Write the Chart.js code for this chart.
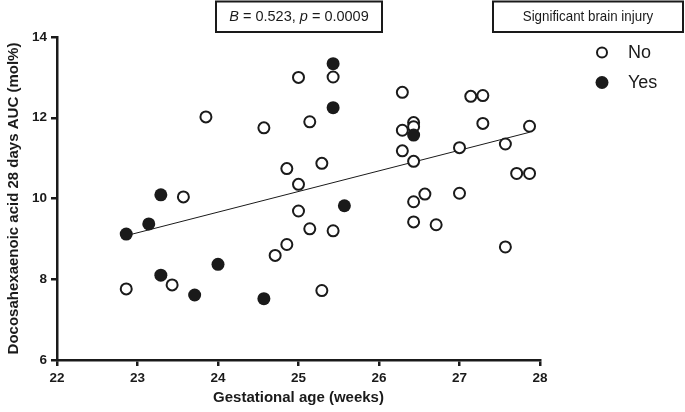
<!DOCTYPE html>
<html>
<head>
<meta charset="utf-8">
<script src="https://cdn.jsdelivr.net/npm/chart.js@4.4.1/dist/chart.umd.min.js"></script>
<style>
  html, body { margin: 0; padding: 0; background: #fff; }
  #wrap { width: 685px; height: 412px; }
</style>
</head>
<body>
<div id="wrap"><canvas id="dhaChart" width="685" height="412"></canvas></div>
<script>
// data
const noAge = [23.85, 24.57, 24.855, 23.57, 23.43, 22.86, 24.71, 24.855, 25.0, 25.43,
    26.29, 27.14, 27.29, 25.14, 26.29, 26.43, 26.43, 27.29, 27.87, 27.0,
    27.57, 26.29, 26.43, 27.71, 27.87, 25.29, 25.0, 25.0, 25.14, 25.43,
    25.29, 26.43, 26.57, 27.0, 26.43, 26.71, 27.57];
const noDha = [12.02, 11.75, 10.74, 10.04, 7.86, 7.76, 8.59, 8.86, 13.0, 13.01,
    12.63, 12.53, 12.55, 11.9, 11.69, 11.88, 11.78, 11.86, 11.79, 11.26,
    11.35, 11.18, 10.92, 10.62, 10.62, 10.87, 10.35, 9.69, 9.25, 9.2,
    7.72, 9.92, 10.11, 10.13, 9.42, 9.35, 8.8];
const yesAge = [25.43, 25.43, 26.43, 23.29, 23.14, 22.86, 24.0, 23.29, 23.71, 24.57, 25.57];
const yesDha = [13.34, 12.25, 11.57, 10.09, 9.37, 9.12, 8.37, 8.1, 7.61, 7.52, 9.82];
// regression line end points
const fitAge = [22.86, 27.87];
const fitDha = [9.08, 11.64];
const xTicks = [22, 23, 24, 25, 26, 27, 28];
const yTicks = [6, 8, 10, 12, 14];

const ink = "#1a1a1a";
const font = "'Liberation Sans', Arial, Helvetica, sans-serif";

function toPoints(xs, ys) {
    return xs.map((x, i) => ({ x: x, y: ys[i] }));
}

// boxes + legend drawn on top
const extras = {
    id: "extras",
    afterDraw(chart) {
        const c = chart.ctx;
        c.save();
        c.strokeStyle = ink;
        c.lineWidth = 2;
        c.strokeRect(216, 1.5, 166, 30.5);
        c.strokeRect(493, 1.5, 190, 30.5);

        c.fillStyle = ink;
        c.textBaseline = "middle";
        // "B = 0.523, p = 0.0009" with italic B and p
        const parts = [["B", true], [" = 0.523, ", false], ["p", true], [" = 0.0009", false]];
        let w = 0;
        parts.forEach((p) => {
            c.font = (p[1] ? "italic " : "") + "14.5px " + font;
            w += c.measureText(p[0]).width;
        });
        let x = 299 - w / 2;
        c.textAlign = "left";
        parts.forEach((p) => {
            c.font = (p[1] ? "italic " : "") + "14.5px " + font;
            c.fillText(p[0], x, 17);
            x += c.measureText(p[0]).width;
        });

        // narrower look, like the original
        c.save();
        c.translate(588, 17);
        c.scale(0.92, 1);
        c.font = "14.5px " + font;
        c.textAlign = "center";
        c.fillText("Significant brain injury", 0, 0);
        c.restore();

        // legend
        c.textAlign = "left";
        c.font = "18px " + font;
        c.beginPath();
        c.arc(602, 52.5, 5, 0, Math.PI * 2);
        c.fillStyle = "#fff";
        c.fill();
        c.lineWidth = 2;
        c.stroke();
        c.fillStyle = ink;
        c.fillText("No", 628, 53);

        c.beginPath();
        c.arc(602, 82.5, 6.5, 0, Math.PI * 2);
        c.fill();
        c.fillText("Yes", 628, 83);
        c.restore();
    },
};

const ctx = document.getElementById("dhaChart");

new Chart(ctx, {
    type: "scatter",
    data: {
        datasets: [
            {
                label: "fit",
                data: toPoints(fitAge, fitDha),
                showLine: true,
                borderColor: ink,
                borderWidth: 1,
                pointRadius: 0,
                order: 3,
            },
            {
                label: "No",
                data: toPoints(noAge, noDha),
                pointRadius: 5.5,
                pointBorderWidth: 2,
                borderColor: ink,
                backgroundColor: "#fff",
                order: 2,
            },
            {
                label: "Yes",
                data: toPoints(yesAge, yesDha),
                pointRadius: 6.5,
                pointBorderWidth: 0,
                borderColor: ink,
                backgroundColor: ink,
                order: 1,
            },
        ],
    },
    options: {
        responsive: false,
        animation: false,
        layout: {
            padding: { left: 0, right: 145, top: 37, bottom: 0 },
        },
        plugins: {
            legend: { display: false },
            tooltip: { enabled: false },
        },
        scales: {
            x: {
                type: "linear",
                min: 22,
                max: 28,
                afterBuildTicks: (axis) => {
                    axis.ticks = xTicks.map((v) => ({ value: v }));
                },
                afterFit: (axis) => {
                    axis.height = 52;
                },
                border: { display: true, color: ink, width: 2.5 },
                grid: {
                    display: true,
                    drawOnChartArea: false,
                    drawTicks: true,
                    tickLength: 6,
                    color: ink,
                    lineWidth: 2.5,
                },
                ticks: {
                    color: ink,
                    padding: 4,
                    font: { family: font, size: 13.5, weight: "bold" },
                },
                title: {
                    display: true,
                    text: "Gestational age (weeks)",
                    color: ink,
                    padding: { top: 0, bottom: 5 },
                    font: { family: font, size: 15, weight: "bold" },
                },
            },
            y: {
                type: "linear",
                min: 6,
                max: 14,
                afterBuildTicks: (axis) => {
                    axis.ticks = yTicks.map((v) => ({ value: v }));
                },
                afterFit: (axis) => {
                    axis.width = 57;
                },
                border: { display: true, color: ink, width: 2.5 },
                grid: {
                    display: true,
                    drawOnChartArea: false,
                    drawTicks: true,
                    tickLength: 6,
                    color: ink,
                    lineWidth: 2.5,
                },
                ticks: {
                    color: ink,
                    padding: 4,
                    font: { family: font, size: 13.5, weight: "bold" },
                },
                title: {
                    display: true,
                    text: "Docosahexaenoic acid 28 days AUC (mol%)",
                    color: ink,
                    padding: { top: 5, bottom: 0 },
                    font: { family: font, size: 15, weight: "bold" },
                },
            },
        },
    },
    plugins: [extras],
});
</script>
</body>
</html>
